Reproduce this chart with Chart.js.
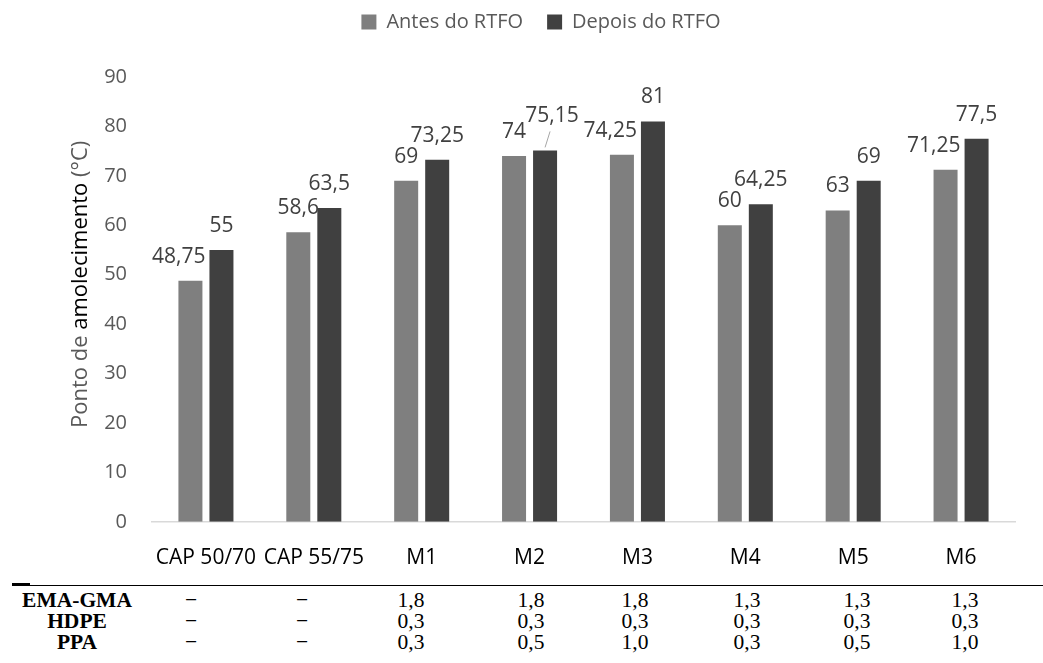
<!DOCTYPE html>
<html>
<head>
<meta charset="utf-8">
<script src="https://cdn.jsdelivr.net/npm/chart.js@4.4.0/dist/chart.umd.min.js"></script>
<style>
  body { margin: 0; background: #fff; }
  #wrap { position: absolute; left: 0; top: 0; width: 1043px; height: 580px; }
  .rule { position: absolute; background: #000; }
  .cell { position: absolute; font-family: "Liberation Serif", "Times New Roman", serif; font-size: 21.5px;
          color: #000; transform: translate(-50%, -50%); white-space: nowrap; line-height: 1; }
  .cell.head { font-weight: bold; }
</style>
</head>
<body>
<div id="wrap"><canvas id="grafico"></canvas></div>
<div id="tabela"></div>
<script>
// dados do grafico
var categorias = ['CAP 50/70', 'CAP 55/75', 'M1', 'M2', 'M3', 'M4', 'M5', 'M6'];
var antesRTFO = [48.75, 58.6, 69, 74, 74.25, 60, 63, 71.25];
var depoisRTFO = [55, 63.5, 73.25, 75.15, 81, 64.25, 69, 77.5];
var yTicks = [0, 10, 20, 30, 40, 50, 60, 70, 80, 90];

// tabela de composicao (%)
var linhasTabela = ['EMA-GMA', 'HDPE', 'PPA'];
var emaGma = ['−', '−', '1,8', '1,8', '1,8', '1,3', '1,3', '1,3'];
var hdpe = ['−', '−', '0,3', '0,3', '0,3', '0,3', '0,3', '0,3'];
var ppa = ['−', '−', '0,3', '0,5', '1,0', '0,3', '0,5', '1,0'];

var FONTE = '"Open Sans", "Liberation Sans", sans-serif';

function fmt(v) { return String(v).replace('.', ','); }

// rotulos de dados (estilo Excel, com afastamento quando sobrepoe)
var rotulosPlugin = {
  id: 'rotulos',
  afterDatasetsDraw: function(chart) {
    var ctx = chart.ctx;
    var m0 = chart.getDatasetMeta(0), m1 = chart.getDatasetMeta(1);
    ctx.save();
    ctx.font = '21px ' + FONTE;
    ctx.fillStyle = '#404040';
    ctx.textAlign = 'center';
    ctx.textBaseline = 'alphabetic';
    var h = 15, gap = 18;
    m0.data.forEach(function(b0, i) {
      var b1 = m1.data[i];
      var t0 = fmt(antesRTFO[i]), t1 = fmt(depoisRTFO[i]);
      var w0 = ctx.measureText(t0).width, w1 = ctx.measureText(t1).width;
      var x0 = b0.x, y0 = b0.y - gap;
      var darkLeft = b1.x - b1.width / 2;
      if (x0 + w0 / 2 > darkLeft + 2 && y0 > b1.y - 2) x0 = darkLeft - 4 - w0 / 2;
      var x1 = b1.x, y1 = b1.y - gap;
      var overlap = (x1 - w1 / 2 < x0 + w0 / 2) && (x1 + w1 / 2 > x0 - w0 / 2) &&
                    (y1 > y0 - h) && (y1 - h < y0);
      ctx.fillText(t0, x0, y0);
      if (overlap) {
        x1 += 7; y1 -= 10;
        ctx.save();
        ctx.strokeStyle = '#a6a6a6';
        ctx.lineWidth = 1;
        ctx.beginPath();
        ctx.moveTo(x1 - 2, y1 + 9);
        ctx.lineTo(b1.x, b1.y - 3);
        ctx.stroke();
        ctx.restore();
      }
      ctx.fillText(t1, x1, y1);
    });
    ctx.restore();
  }
};

// titulo do eixo y com a palavra central em preto
var tituloYPlugin = {
  id: 'tituloY',
  afterDraw: function(chart) {
    var ctx = chart.ctx, a = chart.chartArea;
    var partes = [['Ponto de ', '#595959'], ['amolecimento', '#000000'], [' (°C)', '#595959']];
    ctx.save();
    ctx.font = '22px ' + FONTE;
    var total = 0;
    partes.forEach(function(p) { total += ctx.measureText(p[0]).width; });
    ctx.translate(a.left - 71, (a.top + a.bottom) / 2 - 15);
    ctx.rotate(-Math.PI / 2);
    ctx.textAlign = 'left';
    ctx.textBaseline = 'middle';
    var x = -total / 2;
    partes.forEach(function(p) {
      ctx.fillStyle = p[1];
      ctx.fillText(p[0], x, 0);
      x += ctx.measureText(p[0]).width;
    });
    ctx.restore();
  }
};

var legendaAltura = {
  id: 'legendaAltura',
  beforeInit: function(chart) {
    var fitOrig = chart.legend.fit;
    chart.legend.fit = function() {
      fitOrig.bind(chart.legend)();
      this.height += 35;
    };
  }
};

var ctx = document.getElementById('grafico').getContext('2d');
var grafico = new Chart(ctx, {
  type: 'bar',
  data: {
    labels: categorias,
    datasets: [
      { label: 'Antes do RTFO', data: antesRTFO, backgroundColor: '#7f7f7f',
        categoryPercentage: 0.575, barPercentage: 0.774 },
      { label: 'Depois do RTFO', data: depoisRTFO, backgroundColor: '#404040',
        categoryPercentage: 0.575, barPercentage: 0.774 }
    ]
  },
  options: {
    responsive: true,
    maintainAspectRatio: false,
    animation: false,
    layout: { padding: { top: -12, left: 67, right: 28, bottom: -15 } },
    plugins: {
      legend: {
        position: 'top',
        labels: {
          boxWidth: 15, boxHeight: 15, padding: 24,
          color: '#595959', font: { family: FONTE, size: 20 }
        }
      },
      tooltip: { enabled: false }
    },
    scales: {
      x: {
        grid: { display: false, drawTicks: false },
        border: { color: '#d9d9d9', width: 1.5 },
        ticks: { color: '#000000', padding: 24, maxRotation: 0, autoSkip: false,
                 font: { family: FONTE, size: 21 } }
      },
      y: {
        min: yTicks[0], max: yTicks[yTicks.length - 1],
        grid: { display: false, drawTicks: false },
        border: { display: false },
        afterBuildTicks: function(s) { s.ticks = yTicks.map(function(v) { return { value: v }; }); },
        afterFit: function(s) { s.width = 85; },
        ticks: { color: '#595959', padding: 25, font: { family: FONTE, size: 20 } }
      }
    }
  },
  plugins: [rotulosPlugin, tituloYPlugin, legendaAltura]
});

// tabela abaixo do grafico
var colX = [191, 302, 411, 531, 635, 747, 857, 965];
var linhaY = [601, 622, 643];
var tab = document.getElementById('tabela');
function add(html) { tab.insertAdjacentHTML('beforeend', html); }
add('<div class="rule" style="left:12px;top:585px;width:1031px;height:1px"></div>');
add('<div class="rule" style="left:12px;top:583px;width:18px;height:2px"></div>');
[emaGma, hdpe, ppa].forEach(function(vals, r) {
  add('<div class="cell head" style="left:77px;top:' + linhaY[r] + 'px">' + linhasTabela[r] + '</div>');
  vals.forEach(function(v, c) {
    add('<div class="cell" style="left:' + colX[c] + 'px;top:' + linhaY[r] + 'px">' + v + '</div>');
  });
});
</script>
</body>
</html>
